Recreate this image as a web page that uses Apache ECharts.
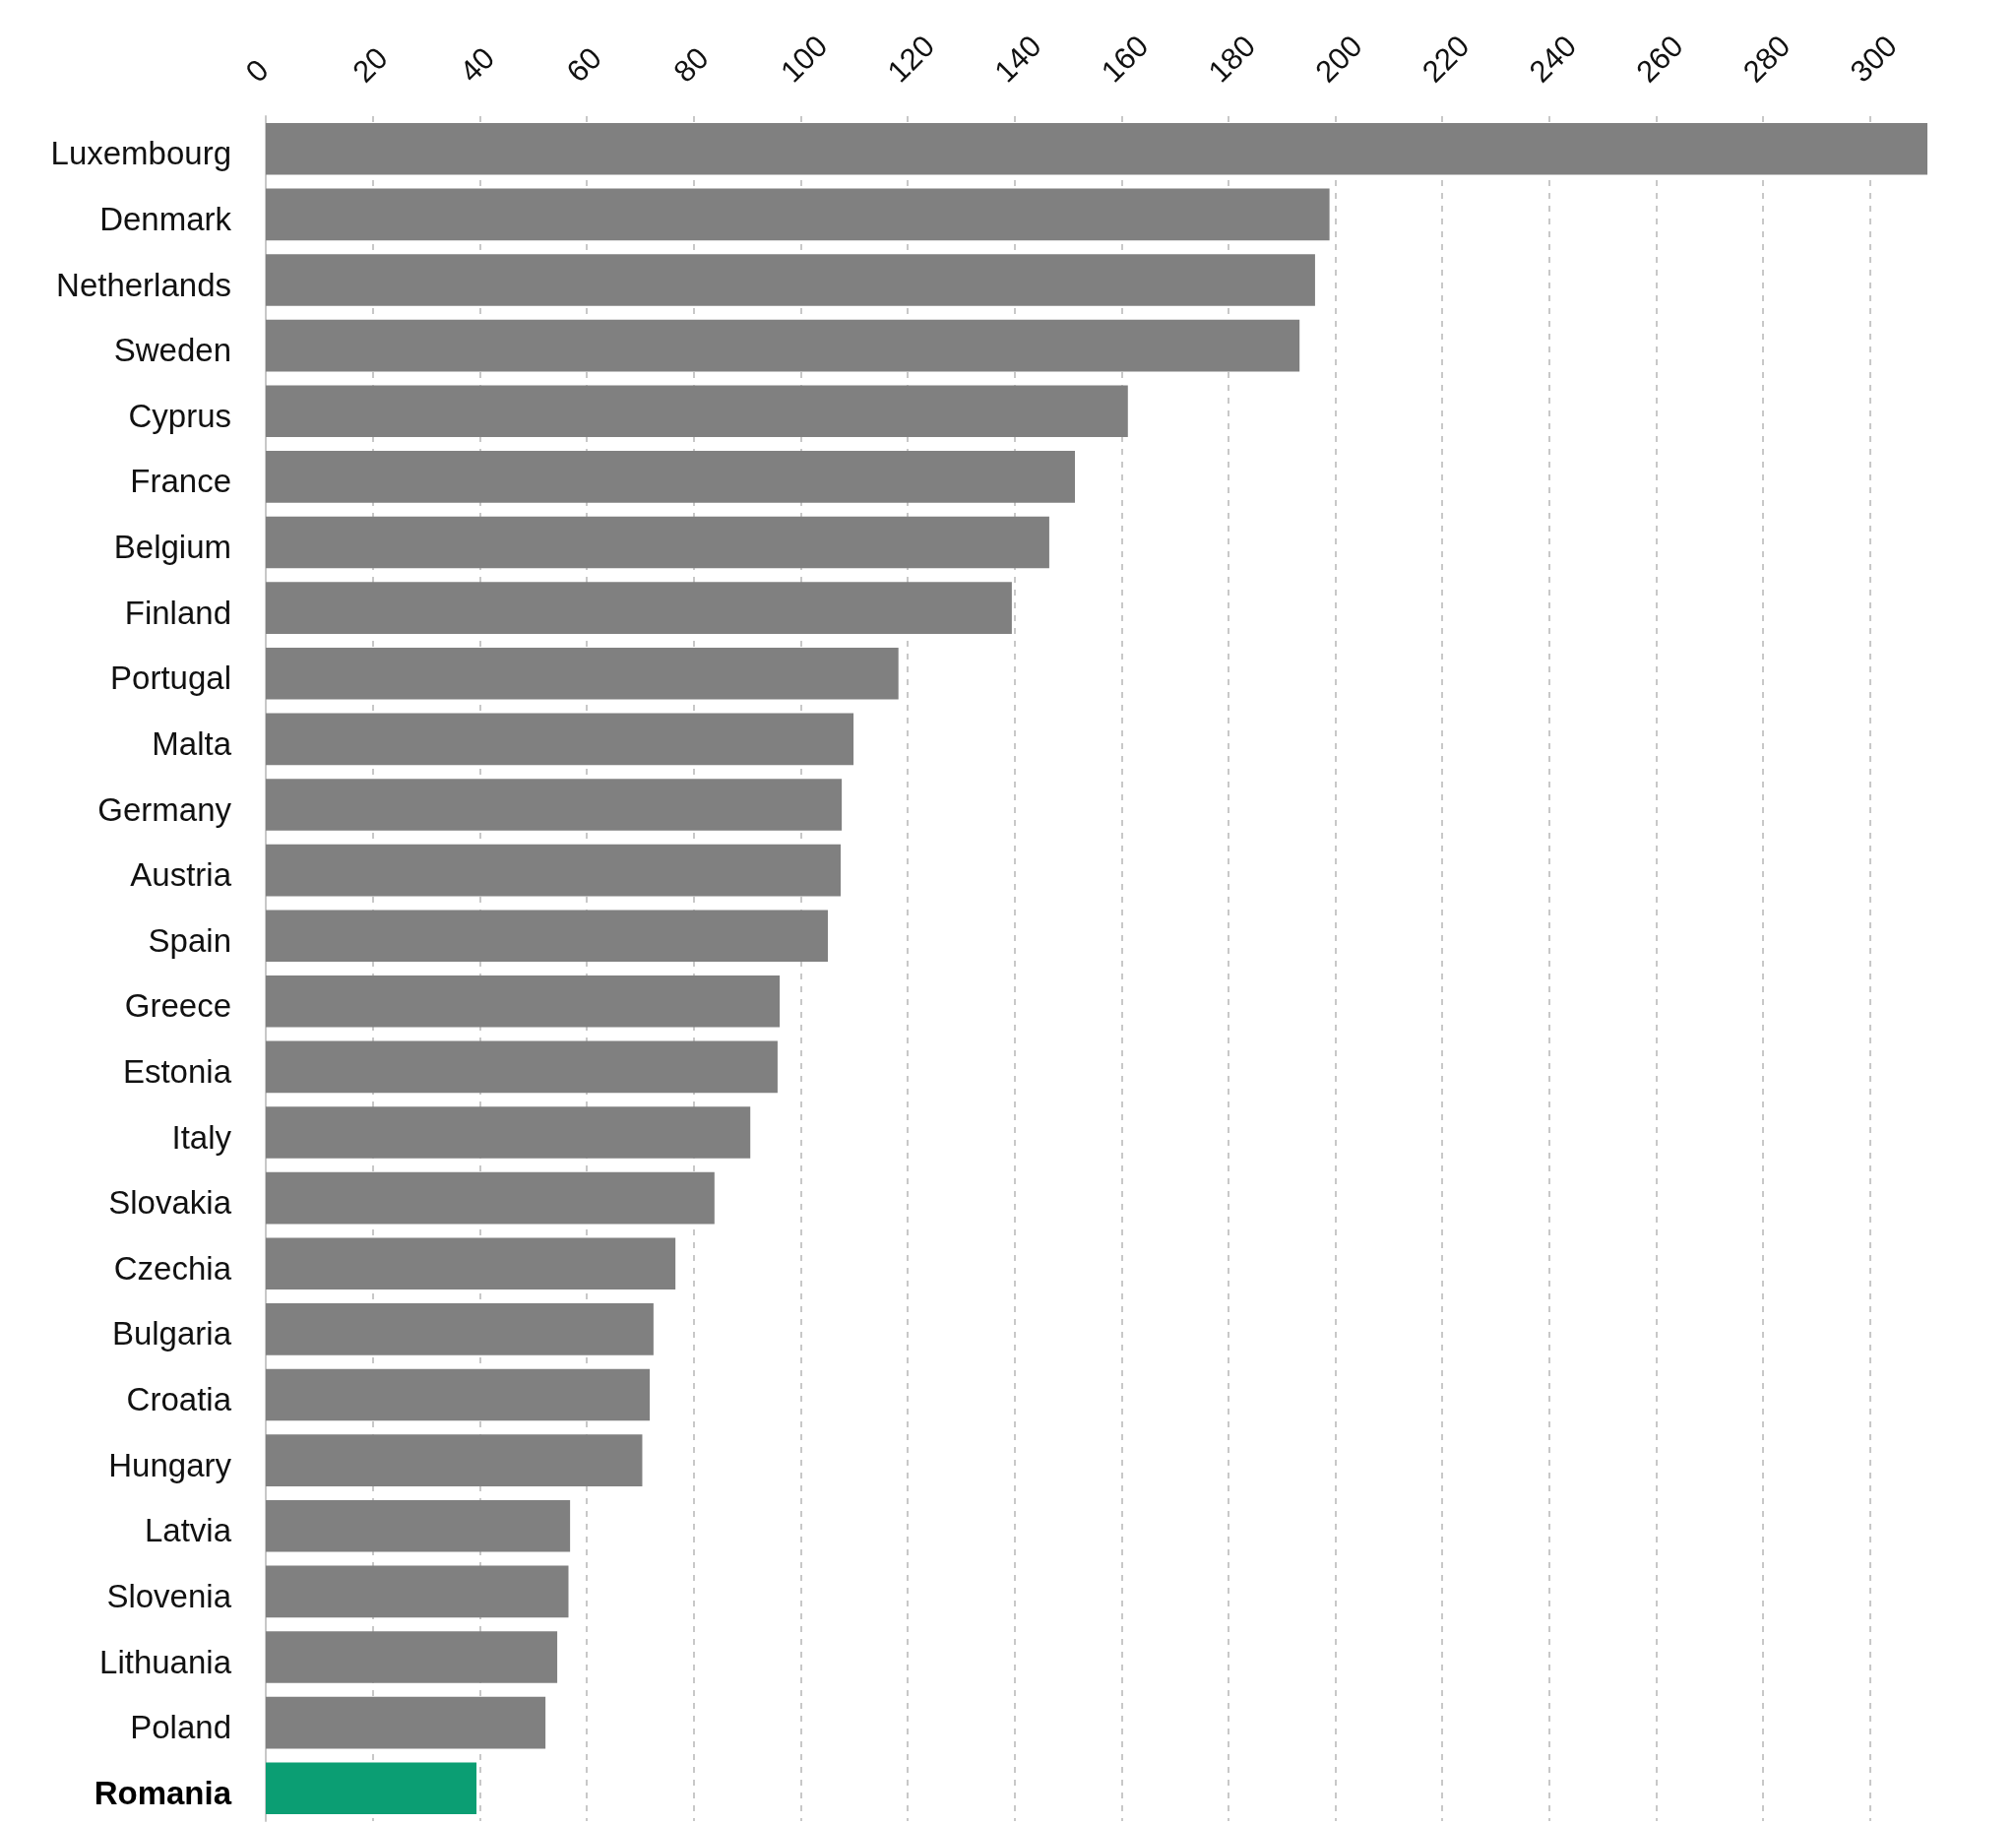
<!DOCTYPE html>
<html>
<head>
<meta charset="utf-8">
<script src="https://cdn.jsdelivr.net/npm/echarts@6/dist/echarts.min.js"></script>
<style>
  html, body { margin: 0; padding: 0; background: #fff; }
  #chart { width: 2048px; height: 1853px; }
</style>
</head>
<body>
<div id="chart"></div>
<script>
// countries, top to bottom
const countries = ['Luxembourg', 'Denmark', 'Netherlands', 'Sweden', 'Cyprus', 'France', 'Belgium',
  'Finland', 'Portugal', 'Malta', 'Germany', 'Austria', 'Spain', 'Greece', 'Estonia', 'Italy',
  'Slovakia', 'Czechia', 'Bulgaria', 'Croatia', 'Hungary', 'Latvia', 'Slovenia', 'Lithuania',
  'Poland', 'Romania']
const values = [310.7, 198.9, 196.2, 193.3, 161.2, 151.3, 146.5, 139.5, 118.3, 109.9, 107.7, 107.5,
  105.1, 96.1, 95.7, 90.6, 83.9, 76.6, 72.5, 71.8, 70.4, 56.9, 56.6, 54.5, 52.3, 39.4]
const highlight = 'Romania'
const tickStep = 20

const FONT = '"Liberation Sans", Arial, Helvetica, sans-serif'

var myChart = echarts.init(document.getElementById('chart'))

let option = {
  animation: false,
  backgroundColor: '#fff',
  grid: {
    left: 270,
    right: 90,
    top: 118,
    bottom: 3
  },
  xAxis: {
    type: 'value',
    position: 'top',
    min: 0,
    max: function (v) { return v.max },
    interval: tickStep,
    axisLine: { show: false },
    axisTick: { show: false },
    axisLabel: {
      rotate: -45,
      align: 'left',
      verticalAlign: 'middle',
      // labels start a little before the tick, like the original
      padding: [0, 0, 0, -19],
      margin: 52,
      fontSize: 31,
      color: '#111',
      fontFamily: FONT,
      showMaxLabel: false
    },
    splitLine: {
      show: true,
      showMinLine: false,
      showMaxLine: false,
      lineStyle: { color: '#c8c8c8', width: 2, type: [6, 7] }
    }
  },
  yAxis: {
    type: 'category',
    inverse: true,
    data: countries,
    axisLine: { show: true, lineStyle: { color: '#c8c8c8', width: 2 } },
    axisTick: { show: false },
    axisLabel: {
      margin: 35,
      fontSize: 33,
      color: '#111',
      fontFamily: FONT,
      padding: [14, 0, 0, 0],
      formatter: function (v) {
        return v === highlight ? '{b|' + v + '}' : v
      },
      rich: {
        b: { fontSize: 33, fontWeight: 'bold', color: '#000', fontFamily: FONT }
      }
    }
  },
  series: [{
    type: 'bar',
    barCategoryGap: '21%',
    data: values.map((v, i) => ({
      value: v,
      itemStyle: { color: countries[i] === highlight ? '#0b9e73' : '#808080' }
    }))
  }]
}

myChart.setOption(option)
</script>
</body>
</html>
